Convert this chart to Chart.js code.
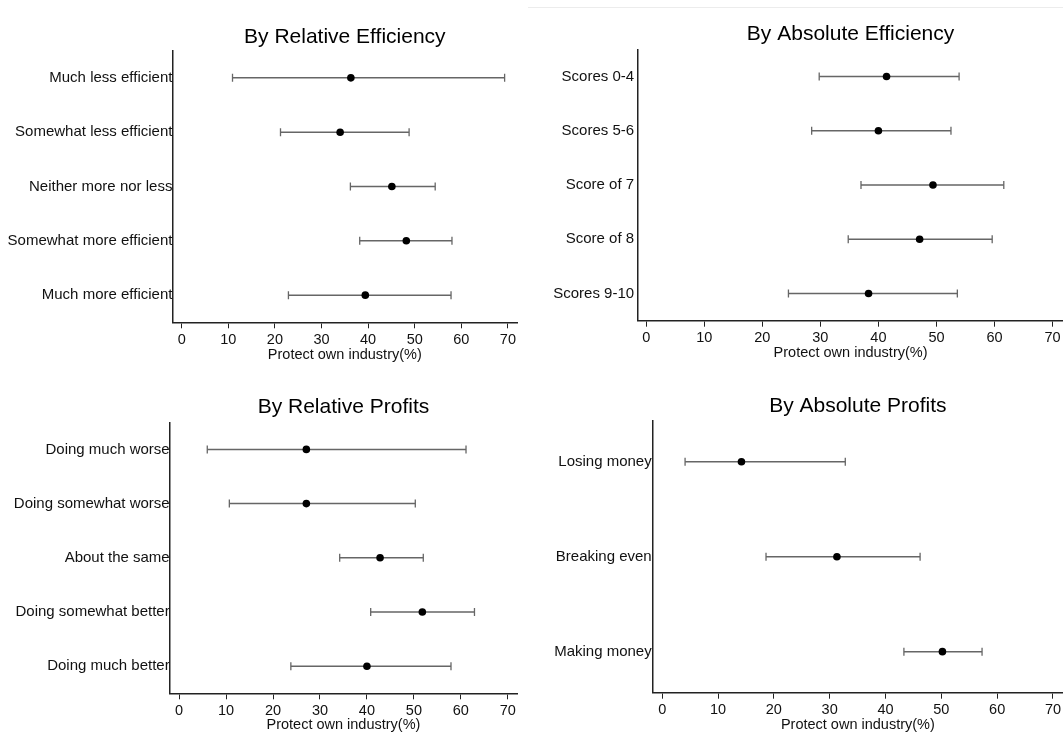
<!DOCTYPE html>
<html>
<head>
<meta charset="utf-8">
<script src="https://cdn.jsdelivr.net/npm/chart.js@4.4.1/dist/chart.umd.min.js"></script>
<style>
  html, body { margin: 0; padding: 0; background: #fff; overflow: hidden; }
  body { width: 1063px; height: 734px; position: relative; }
  canvas { position: absolute; }
  #rule { position: absolute; left: 528px; top: 7px; width: 535px; border-top: 1px solid #ececec; }
</style>
</head>
<body>
<div id="rule"></div>
<canvas id="relEff" width="530" height="367" style="left:0;top:0"></canvas>
<canvas id="absEff" width="533" height="367" style="left:530px;top:0"></canvas>
<canvas id="relProf" width="530" height="367" style="left:0;top:367px"></canvas>
<canvas id="absProf" width="533" height="367" style="left:530px;top:367px"></canvas>
<script>
// x axis ticks, shared by all panels
const xTicks = [0, 10, 20, 30, 40, 50, 60, 70];

// By Relative Efficiency
const relEffLabels = ['Much less efficient', 'Somewhat less efficient', 'Neither more nor less', 'Somewhat more efficient', 'Much more efficient'];
const relEffMean = [36.3, 34.0, 45.1, 48.2, 39.4];
const relEffLow = [10.9, 21.2, 36.2, 38.2, 22.9];
const relEffHigh = [69.3, 48.8, 54.4, 58.0, 57.8];

// By Absolute Efficiency
const absEffLabels = ['Scores 0-4', 'Scores 5-6', 'Score of 7', 'Score of 8', 'Scores 9-10'];
const absEffMean = [41.4, 40.0, 49.4, 47.1, 38.3];
const absEffLow = [29.8, 28.5, 37.0, 34.8, 24.5];
const absEffHigh = [53.9, 52.5, 61.6, 59.6, 53.6];

// By Relative Profits
const relProfLabels = ['Doing much worse', 'Doing somewhat worse', 'About the same', 'Doing somewhat better', 'Doing much better'];
const relProfMean = [27.1, 27.1, 42.8, 51.8, 40.0];
const relProfLow = [6.0, 10.7, 34.2, 40.8, 23.8];
const relProfHigh = [61.1, 50.3, 52.0, 62.9, 57.9];

// By Absolute Profits
const absProfLabels = ['Losing money', 'Breaking even', 'Making money'];
const absProfMean = [14.2, 31.3, 50.2];
const absProfLow = [4.1, 18.6, 43.3];
const absProfHigh = [32.8, 46.2, 57.3];

const AXIS_TITLE = 'Protect own industry(%)';
const INK = '#111';
const LINE = '#222';
const BAR = '#666';

Chart.defaults.font.family = '"Liberation Sans", Arial, Helvetica, sans-serif';
Chart.defaults.color = INK;

/**
 * Draws one dot-and-whisker panel.
 * plot = chart area edges in canvas pixels, titleY = title centre.
 */
function errorBarChart(id, title, labels, mean, low, high, layout) {
  const rows = labels.map((_, i) => i + 1);
  const dots = rows.map((r, i) => ({ x: mean[i], y: r }));
  const caps = rows.map((r, i) => ({ x: low[i], y: r }))
    .concat(rows.map((r, i) => ({ x: high[i], y: r })));
  const whiskers = [];
  rows.forEach((r, i) => {
    whiskers.push({ x: low[i], y: r }, { x: high[i], y: r }, { x: null, y: null });
  });

  const canvas = document.getElementById(id);
  const plot = layout.plot;
  const half = 21 * 1.2 / 2;

  return new Chart(canvas, {
    type: 'scatter',
    data: {
      datasets: [
        {
          data: dots,
          pointRadius: 3.8,
          pointBackgroundColor: '#000',
          pointBorderWidth: 0,
          pointHoverRadius: 3.8
        },
        {
          data: caps,
          pointStyle: 'line',
          pointRotation: 90,
          pointRadius: 4,
          pointBorderColor: BAR,
          pointBorderWidth: 1.3,
          pointHoverRadius: 4
        },
        {
          data: whiskers,
          showLine: true,
          spanGaps: false,
          borderColor: BAR,
          borderWidth: 1.5,
          pointRadius: 0,
          pointHoverRadius: 0
        }
      ]
    },
    options: {
      responsive: false,
      animation: false,
      events: [],
      layout: {
        autoPadding: false,
        padding: { left: 0, top: 0, bottom: 0, right: canvas.width - plot.right }
      },
      plugins: {
        legend: { display: false },
        tooltip: { enabled: false },
        title: {
          display: true,
          text: title,
          fullSize: false,
          color: '#000',
          font: { size: 21, weight: 'normal' },
          padding: { top: layout.titleY - half, bottom: plot.top - layout.titleY - half }
        }
      },
      scales: {
        x: {
          type: 'linear',
          min: layout.xMin,
          max: layout.xMax,
          afterBuildTicks: (s) => { s.ticks = xTicks.map(v => ({ value: v })); },
          afterFit: (s) => {
            s.height = canvas.height - plot.bottom;
            s.paddingLeft = 0;
            s.paddingRight = 0;
          },
          grid: { display: true, drawOnChartArea: false, drawTicks: true, tickLength: 6, color: LINE, lineWidth: 1 },
          border: { display: true, color: LINE, width: 1.5 },
          ticks: { color: INK, font: { size: 14.5 }, padding: 3, maxRotation: 0, autoSkip: false },
          title: {
            display: true,
            text: AXIS_TITLE,
            color: INK,
            font: { size: 14.5 },
            padding: { top: 0, bottom: layout.xTitlePad }
          }
        },
        y: {
          type: 'linear',
          reverse: true,
          min: 1 - layout.yPad,
          max: labels.length + layout.yPad,
          afterBuildTicks: (s) => { s.ticks = rows.map(v => ({ value: v })); },
          afterFit: (s) => {
            s.width = plot.left;
            s.paddingTop = 0;
            s.paddingBottom = 0;
          },
          grid: { display: false, drawTicks: false },
          border: { display: true, color: LINE, width: 1.5 },
          ticks: {
            color: INK,
            font: { size: 15 },
            padding: layout.labelPad,
            autoSkip: false,
            callback: (v) => labels[v - 1]
          }
        }
      }
    }
  });
}

errorBarChart('relEff', 'By Relative Efficiency', relEffLabels, relEffMean, relEffLow, relEffHigh, {
  plot: { left: 172.4, top: 50.7, right: 517.2, bottom: 322.3 },
  titleY: 37, xMin: -2, xMax: 72, yPad: 0.5, labelPad: 0, xTitlePad: 3.3
});

errorBarChart('absEff', 'By Absolute Efficiency', absEffLabels, absEffMean, absEffLow, absEffHigh, {
  plot: { left: 108.1, top: 49.3, right: 533, bottom: 320.7 },
  titleY: 34.7, xMin: -1.4, xMax: 71.8, yPad: 0.5, labelPad: 4, xTitlePad: 5.6
});

errorBarChart('relProf', 'By Relative Profits', relProfLabels, relProfMean, relProfLow, relProfHigh, {
  plot: { left: 169.7, top: 55.3, right: 517.2, bottom: 326.3 },
  titleY: 40.5, xMin: -2, xMax: 72, yPad: 0.5, labelPad: 0, xTitlePad: 0
});

errorBarChart('absProf', 'By Absolute Profits', absProfLabels, absProfMean, absProfLow, absProfHigh, {
  plot: { left: 122.7, top: 53.7, right: 533, bottom: 325.7 },
  titleY: 39.3, xMin: -1.7, xMax: 71.8, yPad: 0.432, labelPad: 1, xTitlePad: 0
});
</script>
</body>
</html>
